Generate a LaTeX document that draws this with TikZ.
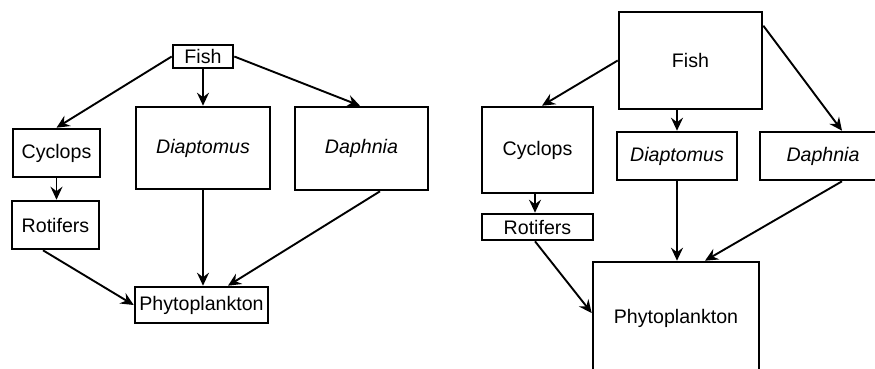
\documentclass[tikz,border=0pt]{standalone}
\usepackage{fontspec}
\setmainfont{Liberation Sans}
\usetikzlibrary{arrows.meta}
\begin{document}
\begin{tikzpicture}[x=1pt,y=-1pt,
  box/.style={draw,line width=2.6pt,inner sep=0pt,font=\fontsize{19.6}{21}\selectfont},
  arr/.style={line width=1.9pt,-{Stealth[length=13pt,width=12pt,inset=4.5pt]}}]
\clip (0,0) rectangle (875,368);
% left panel
\node[box,minimum width=60pt,minimum height=23pt] (fishL) at (203,56.5) {Fish};
\node[box,minimum width=87pt,minimum height=48pt] (cycL) at (56.5,153) {Cyclops};
\node[box,minimum width=87pt,minimum height=48pt] (rotL) at (55.5,225) {Rotifers};
\node[box,minimum width=134pt,minimum height=82pt] (diaL) at (203,148) {\itshape Diaptomus};
\node[box,minimum width=133pt,minimum height=83pt] (dapL) at (361.5,148.5) {\itshape Daphnia};
\node[box,minimum width=133pt,minimum height=36pt] (phyL) at (201.5,305) {Phytoplankton};
\draw[arr] (fishL.west) -- (cycL.north);
\draw[arr] (fishL.south) -- (diaL.north);
\draw[arr] (fishL.east) -- ([xshift=-1.5pt]dapL.north);
\draw[arr] (cycL.south) -- (cycL.south |- rotL.north);
\draw[arr] ([xshift=-12.5pt]rotL.south) -- (phyL.west);
\draw[arr] (diaL.south) -- (diaL.south |- phyL.north);
\draw[arr] ([xshift=18.5pt]dapL.south) -- ([xshift=26.5pt]phyL.north);
% right panel
\node[box,minimum width=143pt,minimum height=97pt] (fishR) at (690.5,60.5) {Fish};
\node[box,minimum width=111pt,minimum height=86pt] (cycR) at (537.5,150) {Cyclops};
\node[box,minimum width=111pt,minimum height=26pt] (rotR) at (537.5,227) {Rotifers};
\node[box,minimum width=120pt,minimum height=48pt] (diaR) at (677,156) {\itshape Diaptomus};
\node[box,minimum width=126pt,minimum height=48pt,text width=114pt,align=center] (dapR) at (823,156) {\itshape Daphnia};
\node[box,minimum width=166pt,minimum height=112pt] (phyR) at (676,318) {Phytoplankton};
\draw[arr] (fishR.west) -- ([xshift=4.5pt]cycR.north);
\draw[arr] (diaR.north |- fishR.south) -- (diaR.north);
\draw[arr] ([yshift=-15pt]fishR.north east) -- ([xshift=19pt]dapR.north);
\draw[arr] ([xshift=-2.5pt]cycR.south) -- ([xshift=-2.5pt]rotR.north);
\draw[arr] ([xshift=-2.5pt]rotR.south) -- ([yshift=5pt]phyR.west);
\draw[arr] (diaR.south) -- (diaR.south |- phyR.north);
\draw[arr] ([xshift=19pt]dapR.south) -- ([xshift=29pt]phyR.north);
\end{tikzpicture}
\end{document}
